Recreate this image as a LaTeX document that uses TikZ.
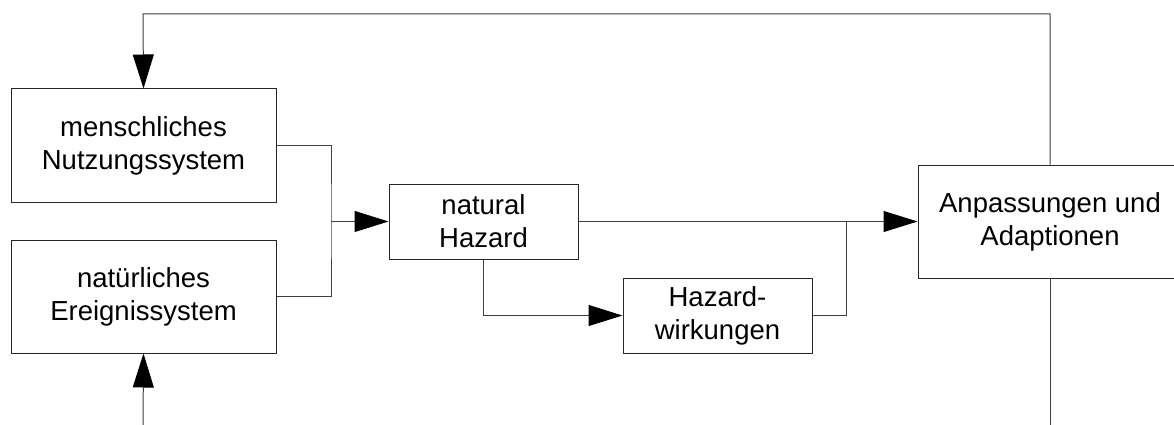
\documentclass[tikz,border=0pt]{standalone}
\usepackage{fontspec}
\setmainfont{Liberation Sans}
\usetikzlibrary{arrows.meta}
\begin{document}
\begin{tikzpicture}[x=1pt,y=-1pt,
  box/.style={draw=black!85,line width=1pt,rectangle,align=center,inner sep=0pt,
    font=\fontsize{27.5}{33}\selectfont},
  conn/.style={draw=black!75,line width=1pt},
  arr/.style={conn,-{Triangle[length=34pt,width=21pt,fill=black,color=black]}}]
\useasboundingbox (0,0) rectangle (1174,425);
\node[box,minimum width=265pt,minimum height=113pt] (m) at (143.5,145.5) {menschliches\\Nutzungssystem};
\node[box,minimum width=265pt,minimum height=113pt] (n) at (143.5,296.5) {natürliches\\Ereignissystem};
\node[box,minimum width=189pt,minimum height=75pt] (h) at (483.5,221.5) {natural\\Hazard};
\node[box,minimum width=189pt,minimum height=75pt] (w) at (717.5,315.5) {Hazard-\\wirkungen};
\node[box,minimum width=264pt,minimum height=113pt] (a) at (1050,221.5) {Anpassungen und\\Adaptionen};
\coordinate (j1) at (331,221.5);
\coordinate (j2) at (846,221.5);
\coordinate (tr) at (1050,14);
\coordinate (tl) at (143,14);
\coordinate (br) at (1050,430);
\coordinate (bl) at (143,430);
% feedback top
\draw[arr] (a.north) -- (tr) -- (tl) -- (m.north);
% bottom lines
\draw[conn] (a.south) -- (br);
\draw[arr] (bl) -- (n.south);
% merge into natural hazard
\draw[conn] (m.east) -| (j1) |- (n.east);
\draw[arr] (j1) -- (h.west);
% hazard to adaptation
\draw[arr] (h.east) -- (a.west);
% hazard to wirkungen
\draw[arr] (h.south) |- (w.west);
\draw[conn] (w.east) -| (j2);
\end{tikzpicture}
\end{document}
